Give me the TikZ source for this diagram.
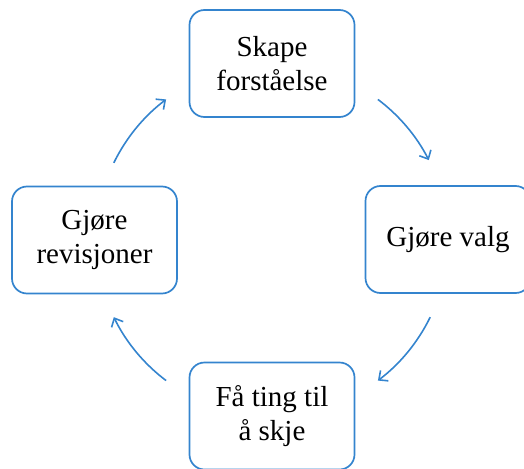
\documentclass[tikz,border=0pt]{standalone}
\usepackage{fontspec}
\setmainfont{Liberation Serif}
\usetikzlibrary{arrows.meta}
\definecolor{cycleblue}{RGB}{52,132,206}
\begin{document}
\begin{tikzpicture}[x=1pt,y=1pt,
  stagebox/.style={draw=cycleblue, line width=1.7pt, rounded corners=15pt,
    minimum width=165pt, minimum height=107pt, align=center,
    font=\fontsize{29}{34}\selectfont, inner sep=0pt},
  cyclearrow/.style={draw=cycleblue, line width=1.6pt,
    -{Straight Barb[length=7pt,width=13pt,line width=1.6pt]}}]
  \useasboundingbox (0,0) rectangle (524,-468);
  \coordinate (hub) at (272,-240);
  \node[stagebox] (understand) at (272,-63.5) {Skape\\forståelse};
  \node[stagebox] (choose) at (448,-239.5) {Gjøre valg};
  \node[stagebox] (act) at (272,-416) {Få ting til\\å skje};
  \node[stagebox] (revise) at (94.5,-240) {Gjøre\\revisjoner};
  % arcs of one circle round the hub, between neighbouring stages
  \draw[cyclearrow] ([shift={(53:176)}]hub) arc[start angle=53, end angle=27, radius=176];
  \draw[cyclearrow] ([shift={(-26:176)}]hub) arc[start angle=-26, end angle=-53, radius=176];
  \draw[cyclearrow] ([shift={(-127:176)}]hub) arc[start angle=-127, end angle=-154, radius=176];
  \draw[cyclearrow] ([shift={(154:176)}]hub) arc[start angle=154, end angle=127, radius=176];
\end{tikzpicture}
\end{document}
